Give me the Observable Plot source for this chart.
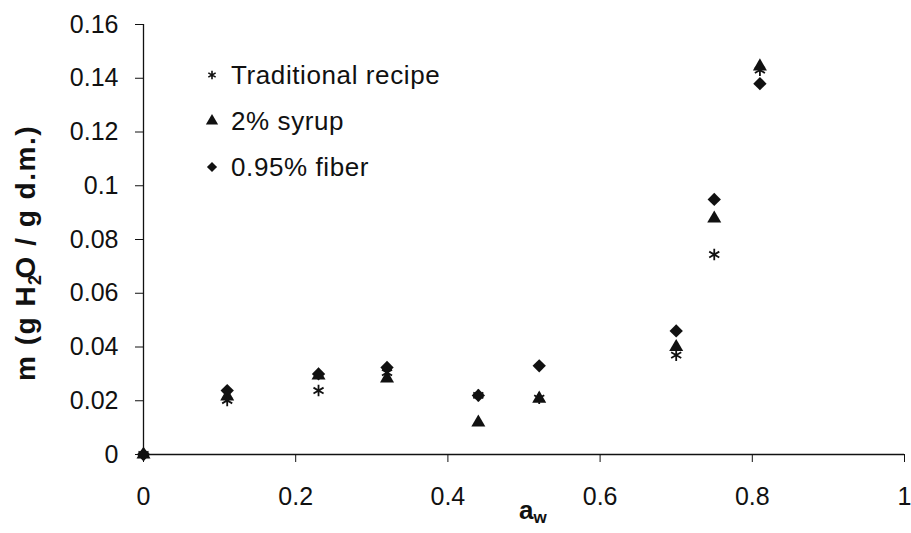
<!DOCTYPE html>
<html>
<head>
<meta charset="utf-8">
<script src="https://cdn.jsdelivr.net/npm/d3@7"></script>
<script src="https://cdn.jsdelivr.net/npm/@observablehq/plot@0.6"></script>
<style>
  html, body { margin: 0; padding: 0; background: #fff; }
  #chart svg { display: block; }
</style>
</head>
<body>
<div id="chart"></div>
<script>
// ---- data ----
const aw = [0, 0.11, 0.23, 0.32, 0.44, 0.52, 0.70, 0.75, 0.81];
const traditional = [0, 0.0201, 0.0238, 0.0305, 0.0220, 0.0210, 0.0370, 0.0744, 0.1430];
const syrup       = [0, 0.0216, 0.0294, 0.0283, 0.0119, 0.0208, 0.0400, 0.0878, 0.1444];
const fiber       = [0, 0.0238, 0.0300, 0.0324, 0.0220, 0.0330, 0.0460, 0.0949, 0.1380];
const seriesNames = ["Traditional recipe", "2% syrup", "0.95% fiber"];
const xTicks = [0, 0.2, 0.4, 0.6, 0.8, 1];
const yTicks = [0, 0.02, 0.04, 0.06, 0.08, 0.1, 0.12, 0.14, 0.16];

const rows = [];
aw.forEach((a, i) => {
  rows.push({aw: a, m: traditional[i], s: seriesNames[0]});
  rows.push({aw: a, m: syrup[i], s: seriesNames[1]});
  rows.push({aw: a, m: fiber[i], s: seriesNames[2]});
});

const ink = "#111";
const font = "'Liberation Sans', Arial, sans-serif";

const chart = Plot.plot({
  width: 911,
  height: 533,
  marginLeft: 143,
  marginRight: 7,
  marginTop: 24,
  marginBottom: 79,
  style: {fontFamily: font, fontSize: "25px", color: ink, background: "#fff"},
  x: {domain: [0, 1]},
  y: {domain: [0, 0.16]},
  marks: [
    Plot.axisX({ticks: xTicks, tickSize: 8, tickPadding: 25, tickFormat: d => String(d), label: null, fontSize: 25, stroke: ink}),
    Plot.axisY({ticks: yTicks, tickSize: 8, tickPadding: 17, tickFormat: d => String(d), label: null, fontSize: 25, stroke: ink}),
    Plot.ruleY([0], {stroke: ink, strokeWidth: 1.3}),
    Plot.ruleX([0], {stroke: ink, strokeWidth: 1.3}),
    Plot.dot(rows.filter(d => d.s === seriesNames[2]), {x: "aw", y: "m", symbol: "diamond2", r: 6, fill: ink, stroke: "none"}),
    Plot.dot(rows.filter(d => d.s === seriesNames[1]), {x: "aw", y: "m", symbol: "triangle", r: 5.2, fill: ink, stroke: "none"}),
    Plot.dot(rows.filter(d => d.s === seriesNames[0]), {x: "aw", y: "m", symbol: "asterisk", r: 5.5, stroke: ink, strokeWidth: 1.8, fill: "none"})
  ]
});

const svg = d3.select(chart);

// y label
const yl = svg.append("text")
  .attr("transform", "translate(35,253) rotate(-90)")
  .attr("text-anchor", "middle")
  .attr("font-family", font)
  .attr("font-size", 28)
  .attr("letter-spacing", 1.5)
  .attr("font-weight", "bold")
  .attr("fill", ink);
yl.append("tspan").text("m (g H");
yl.append("tspan").attr("font-size", 18).attr("dy", 6).text("2");
yl.append("tspan").attr("dy", -6).attr("dx", -5).text("O / g d.m.)");

// x label
const xl = svg.append("text")
  .attr("x", 519)
  .attr("y", 519)
  .attr("text-anchor", "start")
  .attr("font-family", font)
  .attr("font-size", 26)
  .attr("font-weight", "bold")
  .attr("fill", ink);
xl.append("tspan").text("a");
xl.append("tspan").attr("font-size", 17).attr("dy", 4).text("w");

// legend
const sym = [d3.symbolAsterisk, d3.symbolTriangle, d3.symbolDiamond2];
const legend = svg.append("g").attr("font-family", font).attr("font-size", 26).attr("letter-spacing", 0.6).attr("fill", ink).attr("text-anchor", "start");
seriesNames.forEach((name, i) => {
  const g = legend.append("g").attr("transform", `translate(212,${75 + i * 46})`);
  if (i === 0) {
    g.append("path").attr("d", d3.symbol(sym[i], 50)()).attr("stroke", ink).attr("stroke-width", 1.6).attr("fill", "none");
  } else {
    g.append("path").attr("d", d3.symbol(sym[i], 65)()).attr("fill", ink);
  }
  g.append("text").attr("x", 19).attr("dy", "0.36em").text(name);
});

document.getElementById("chart").appendChild(chart);
</script>
</body>
</html>
